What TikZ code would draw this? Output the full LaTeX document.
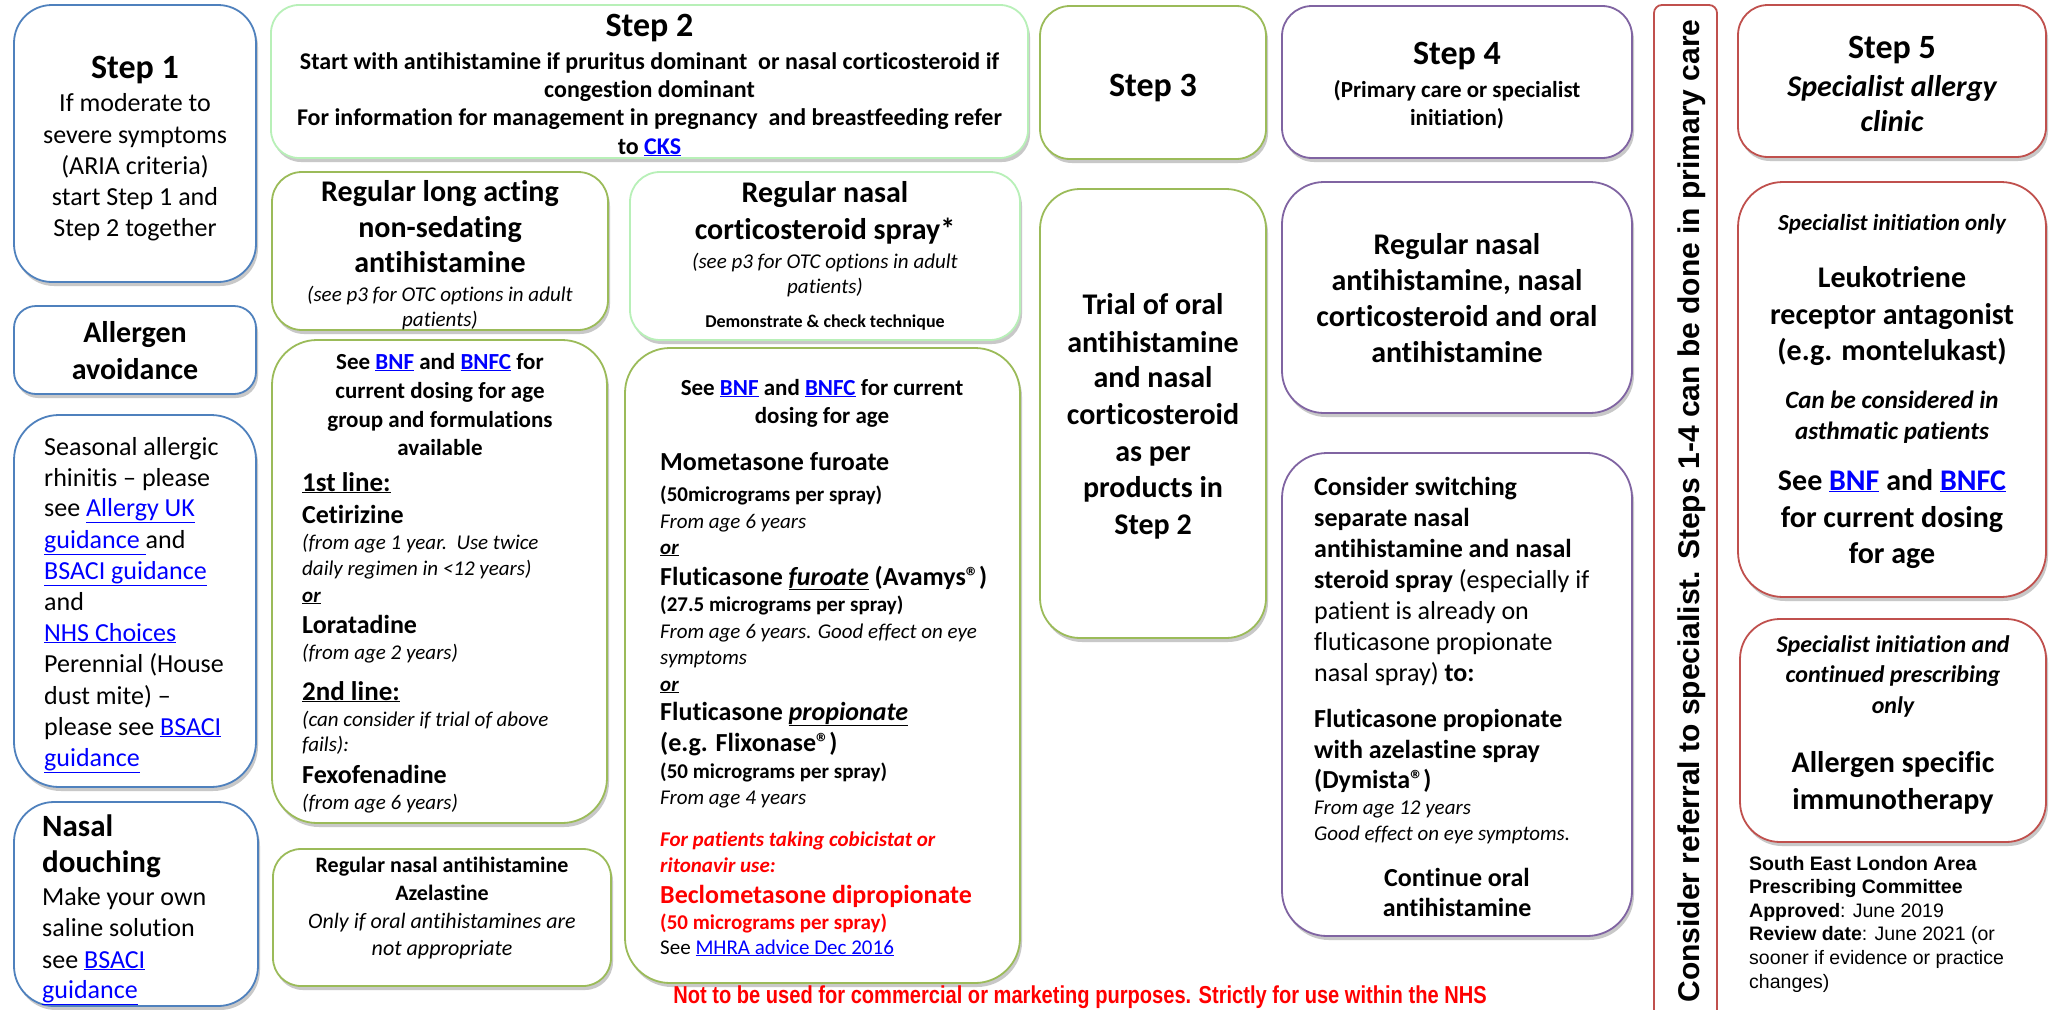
\documentclass[tikz,border=0pt]{standalone}
\usepackage{fontspec}
\setmainfont{Carlito}[Ligatures={TeX,NoCommon}]
\newfontfamily\arialfont{Liberation Sans}
\newfontfamily\arialnarrow[FakeStretch=0.82]{Liberation Sans}
\usetikzlibrary{shadows}
\definecolor{cblue}{HTML}{4F81BD}
\definecolor{cgreen}{HTML}{9BBB59}
\definecolor{clight}{HTML}{B8F0B8}
\definecolor{cpurple}{HTML}{8064A2}
\definecolor{cred}{HTML}{C0504D}
\definecolor{linkblue}{HTML}{0000FF}
\definecolor{txtred}{HTML}{FF0000}
\newcommand\lk[1]{\textcolor{linkblue}{\underline{#1}}}
\newcommand\mkbox[7]{\node[#2,rounded corners=#7pt,minimum width={(#5)-(#3)},minimum height={(#6)-(#4)}] (#1) at ({((#3)+(#5))/2},{((#4)+(#6))/2}) {};}
\tikzset{
  box/.style={draw, line width=1.8pt, fill=white, inner sep=0pt, outer sep=0pt,
    drop shadow={shadow xshift=2pt, shadow yshift=-4pt, opacity=0.3, fill=black!70}},
  bluebox/.style={box, draw=cblue},
  greenbox/.style={box, draw=cgreen},
  lightbox/.style={box, draw=clight},
  purplebox/.style={box, draw=cpurple},
  redbox/.style={box, draw=cred},
  tc/.style={inner sep=0pt, anchor=base},
  tl/.style={inner sep=0pt, anchor=base west},
  fb/.style={font={\fontsize{#1}{#1}\selectfont\bfseries}},
  fr/.style={font={\fontsize{#1}{#1}\selectfont}},
  fi/.style={font={\fontsize{#1}{#1}\selectfont\itshape}},
  fbi/.style={font={\fontsize{#1}{#1}\selectfont\bfseries\itshape}},
  fa/.style={font={\fontsize{#1}{#1}\selectfont\arialfont}},
}
\begin{document}
\begin{tikzpicture}[x=1pt,y=-1pt]
\fill[white] (0,0) rectangle (2049,1009);
\useasboundingbox (0,0) rectangle (2049,1009);

% ---------------- boxes ----------------
\mkbox{s1box}{bluebox}{14}{5}{256}{282}{38}
\mkbox{algbox}{bluebox}{14}{306}{256}{394}{22}
\mkbox{seabox}{bluebox}{14}{415}{256}{787}{45}
\mkbox{douchbox}{bluebox}{14}{802}{258}{1006}{40}

\mkbox{s2box}{lightbox}{271}{5}{1028}{158}{28}
\mkbox{longbox}{greenbox}{272}{172}{608}{330}{30}
\mkbox{corbox}{lightbox}{630}{172}{1020}{340}{30}
\mkbox{bnfl}{greenbox}{272}{340}{607}{823}{45}
\mkbox{azebox}{greenbox}{273}{849}{611}{986}{28}
\mkbox{bnfm}{greenbox}{625}{348}{1020}{983}{45}

\mkbox{s3box}{greenbox}{1040}{6}{1266}{159}{30}
\mkbox{trialbox}{greenbox}{1040}{189}{1266}{638}{40}

\mkbox{s4box}{purplebox}{1282}{6}{1632}{158}{30}
\mkbox{regbox}{purplebox}{1282}{182}{1632}{413}{42}
\mkbox{conbox}{purplebox}{1282}{453}{1632}{936}{45}

\node[draw=cred, line width=1.8pt, rounded corners=8pt, inner sep=0pt,
  minimum width=63pt, minimum height=1017pt] (bar) at (1685.5,513.5) {};

\mkbox{s5box}{redbox}{1738}{5}{2046}{157}{30}
\mkbox{spibox}{redbox}{1738}{182}{2046}{597}{45}
\mkbox{spcbox}{redbox}{1740}{619}{2046}{842}{40}

% ---------------- Step 1 ----------------
\node[tc,fb=34] (s1t) at (135,78) {Step 1};
\node[tc,fr=26] (s1a) at (135,111) {If moderate to};
\node[tc,fr=26] (s1b) at (135,143) {severe symptoms};
\node[tc,fr=26] (s1c) at (135,174) {(ARIA criteria)};
\node[tc,fr=26] (s1d) at (135,205) {start Step 1 and};
\node[tc,fr=26] (s1e) at (135,236) {Step 2 together};

\node[tc,fb=30] (alg1) at (135,342) {Allergen};
\node[tc,fb=30] (alg2) at (135,379) {avoidance};

\node[tl,fr=26] (sea1) at (44,455) {Seasonal allergic};
\node[tl,fr=26] (sea2) at (44,486) {rhinitis – please};
\node[tl,fr=26] (sea3) at (44,516) {see \lk{Allergy UK}};
\node[tl,fr=26] (sea4) at (44,548) {\lk{guidance~}and};
\node[tl,fr=26] (sea5) at (44,579) {\lk{BSACI guidance}};
\node[tl,fr=26] (sea6) at (44,610) {and};
\node[tl,fr=26] (sea7) at (44,641) {\lk{NHS Choices}};
\node[tl,fr=26] (sea8) at (44,672) {Perennial (House};
\node[tl,fr=26] (sea9) at (44,704) {dust mite) –};
\node[tl,fr=26] (sea10) at (44,735) {please see \lk{BSACI}};
\node[tl,fr=26] (sea11) at (44,766) {\lk{guidance}};

\node[tl,fb=31] (nd1) at (42,836) {Nasal};
\node[tl,fb=31] (nd2) at (42,872) {douching};
\node[tl,fr=26] (nd3) at (42,905) {Make your own};
\node[tl,fr=26] (nd4) at (42,936) {saline solution};
\node[tl,fr=26] (nd5) at (42,968) {see \lk{BSACI}};
\node[tl,fr=26] (nd6) at (42,998) {\lk{guidance}};

% ---------------- Step 2 ----------------
\node[tc,fb=34] (s2t) at (649.5,36) {Step 2};
\node[tc,fb=24] (s2a) at (649.5,69) {Start with antihistamine if pruritus dominant\ \ or nasal corticosteroid if};
\node[tc,fb=24] (s2b) at (649.5,97) {congestion dominant};
\node[tc,fb=24] (s2c) at (649.5,125) {For information for management in pregnancy\ \ and breastfeeding refer};
\node[tc,fb=24] (s2d) at (649.5,154) {to \lk{CKS}};

\node[tc,fb=30] (lg1) at (440,201) {Regular long acting};
\node[tc,fb=30] (lg2) at (440,237) {non-sedating};
\node[tc,fb=30] (lg3) at (440,272) {antihistamine};
\node[tc,fi=21] (lg4) at (440,301) {(see p3 for OTC options in adult};
\node[tc,fi=21] (lg5) at (440,326) {patients)};

\node[tc,fb=30] (co1) at (825,202) {Regular nasal};
\node[tc,fb=30] (co2) at (825,239) {corticosteroid spray*};
\node[tc,fi=21] (co3) at (825,268) {(see p3 for OTC options in adult};
\node[tc,fi=21] (co4) at (825,293) {patients)};
\node[tc,fb=18] (co5) at (825,327) {Demonstrate \& check technique};

% left dosing box
\node[tc,fb=23] (bl1) at (440,369) {See \lk{BNF} and \lk{BNFC} for};
\node[tc,fb=23] (bl2) at (440,398) {current dosing for age};
\node[tc,fb=23] (bl3) at (440,427) {group and formulations};
\node[tc,fb=23] (bl4) at (440,455) {available};
\node[tl,fb=27] (bl5) at (302,491) {\underline{1st line:}};
\node[tl,fb=26] (bl6) at (302,523) {Cetirizine};
\node[tl,fi=21] (bl7) at (302,549) {(from age 1 year.\ \ Use twice};
\node[tl,fi=21] (bl8) at (302,575) {daily regimen in <12 years)};
\node[tl,fbi=21] (bl9) at (302,602) {\underline{or}};
\node[tl,fb=26] (bl10) at (302,633) {Loratadine};
\node[tl,fi=21] (bl11) at (302,659) {(from age 2 years)};
\node[tl,fb=27] (bl12) at (302,700) {\underline{2nd line:}};
\node[tl,fi=21] (bl13) at (302,726) {(can consider if trial of above};
\node[tl,fi=21] (bl14) at (302,751) {fails):};
\node[tl,fb=26] (bl15) at (302,783) {Fexofenadine};
\node[tl,fi=21] (bl16) at (302,809) {(from age 6 years)};

\node[tc,fb=22] (az1) at (442,872) {Regular nasal antihistamine};
\node[tc,fb=22] (az2) at (442,900) {Azelastine};
\node[tc,fi=22] (az3) at (442,928) {Only if oral antihistamines are};
\node[tc,fi=22] (az4) at (442,955) {not appropriate};

% middle dosing box
\node[tc,fb=23] (bm1) at (822,395) {See \lk{BNF} and \lk{BNFC} for current};
\node[tc,fb=23] (bm2) at (822,423) {dosing for age};
\node[tl,fb=26] (bm3) at (660,470) {Mometasone furoate};
\node[tl,fb=21] (bm4) at (660,501) {(50micrograms per spray)};
\node[tl,fi=21] (bm5) at (660,528) {From age 6 years};
\node[tl,fbi=21] (bm6) at (660,554) {\underline{or}};
\node[tl,fb=26] (bm7) at (660,585) {Fluticasone \underline{\itshape furoate} (Avamys®)};
\node[tl,fb=21] (bm8) at (660,611) {(27.5 micrograms per spray)};
\node[tl,fi=21] (bm9) at (660,638) {From age 6 years. Good effect on eye};
\node[tl,fi=21] (bm10) at (660,664) {symptoms};
\node[tl,fbi=21] (bm11) at (660,691) {\underline{or}};
\node[tl,fb=26] (bm12) at (660,720) {Fluticasone \underline{\itshape propionate}};
\node[tl,fb=26] (bm13) at (660,751) {(e.g. Flixonase®)};
\node[tl,fb=21] (bm14) at (660,778) {(50 micrograms per spray)};
\node[tl,fi=21] (bm15) at (660,804) {From age 4 years};
\node[tl,fbi=21,text=txtred] (bm16) at (660,846) {For patients taking cobicistat or};
\node[tl,fbi=21,text=txtred] (bm17) at (660,872) {ritonavir use:};
\node[tl,fb=26,text=txtred] (bm18) at (660,903) {Beclometasone dipropionate};
\node[tl,fb=21,text=txtred] (bm19) at (660,929) {(50 micrograms per spray)};
\node[tl,fr=21] (bm20) at (660,954) {See \lk{MHRA advice Dec 2016}};

% ---------------- Step 3 ----------------
\node[tc,fb=34] (s3t) at (1153,96) {Step 3};
\node[tc,fb=30] (tr1) at (1153,314) {Trial of oral};
\node[tc,fb=30] (tr2) at (1153,352) {antihistamine};
\node[tc,fb=30] (tr3) at (1153,387) {and nasal};
\node[tc,fb=30] (tr4) at (1153,424) {corticosteroid};
\node[tc,fb=30] (tr5) at (1153,461) {as per};
\node[tc,fb=30] (tr6) at (1153,497) {products in};
\node[tc,fb=30] (tr7) at (1153,534) {Step 2};

% ---------------- Step 4 ----------------
\node[tc,fb=34] (s4t) at (1457,64) {Step 4};
\node[tc,fb=23] (s4a) at (1457,97) {(Primary care or specialist};
\node[tc,fb=23] (s4b) at (1457,125) {initiation)};
\node[tc,fb=30] (rg1) at (1457,254) {Regular nasal};
\node[tc,fb=30] (rg2) at (1457,290) {antihistamine, nasal};
\node[tc,fb=30] (rg3) at (1457,326) {corticosteroid and oral};
\node[tc,fb=30] (rg4) at (1457,362) {antihistamine};

\node[tl,fb=26] (cs1) at (1314,495) {Consider switching};
\node[tl,fb=26] (cs2) at (1314,526) {separate nasal};
\node[tl,fb=26] (cs3) at (1314,557) {antihistamine and nasal};
\node[tl,fr=26] (cs4) at (1314,588) {\textbf{steroid spray} (especially if};
\node[tl,fr=26] (cs5) at (1314,619) {patient is already on};
\node[tl,fr=26] (cs6) at (1314,650) {fluticasone propionate};
\node[tl,fr=26] (cs7) at (1314,681) {nasal spray) \textbf{to:}};
\node[tl,fb=26] (cs8) at (1314,727) {Fluticasone propionate};
\node[tl,fb=26] (cs9) at (1314,758) {with azelastine spray};
\node[tl,fb=26] (cs10) at (1314,788) {(Dymista®)};
\node[tl,fi=21] (cs11) at (1314,814) {From age 12 years};
\node[tl,fi=21] (cs12) at (1314,840) {Good effect on eye symptoms.};
\node[tc,fb=26] (cs13) at (1457,886) {Continue oral};
\node[tc,fb=26] (cs14) at (1457,916) {antihistamine};

% ---------------- vertical bar ----------------
\node[inner sep=0pt, anchor=base, rotate=90, font={\fontsize{30}{36}\selectfont\arialfont\bfseries}] (vt) at (1699,511) {Consider referral to specialist. Steps 1-4 can be done in primary care};

% ---------------- Step 5 ----------------
\node[tc,fb=34] (s5t) at (1892,58) {Step 5};
\node[tc,fbi=30] (s5a) at (1892,96) {Specialist allergy};
\node[tc,fbi=30] (s5b) at (1892,131) {clinic};

\node[tc,fbi=23] (sp1) at (1892,230) {Specialist initiation only};
\node[tc,fb=30] (sp2) at (1892,287) {Leukotriene};
\node[tc,fb=30] (sp3) at (1892,324) {receptor antagonist};
\node[tc,fb=30] (sp4) at (1892,360) {(e.g. montelukast)};
\node[tc,fbi=25] (sp5) at (1892,408) {Can be considered in};
\node[tc,fbi=25] (sp6) at (1892,439) {asthmatic patients};
\node[tc,fb=30] (sp7) at (1892,490) {See \lk{BNF} and \lk{BNFC}};
\node[tc,fb=30] (sp8) at (1892,527) {for current dosing};
\node[tc,fb=30] (sp9) at (1892,563) {for age};

\node[tc,fbi=24] (sc1) at (1893,652) {Specialist initiation and};
\node[tc,fbi=24] (sc2) at (1893,682) {continued prescribing};
\node[tc,fbi=24] (sc3) at (1893,713) {only};
\node[tc,fb=30] (sc4) at (1893,772) {Allergen specific};
\node[tc,fb=30] (sc5) at (1893,809) {immunotherapy};

% footer
\node[tl,fa=19.5] (ft1) at (1749,870) {\textbf{South East London Area}};
\node[tl,fa=19.5] (ft2) at (1749,893) {\textbf{Prescribing Committee}};
\node[tl,fa=19.5] (ft3) at (1749,917) {\textbf{Approved}: June 2019};
\node[tl,fa=19.5] (ft4) at (1749,940) {\textbf{Review date}: June 2021 (or};
\node[tl,fa=19.5] (ft5) at (1749,964) {sooner if evidence or practice};
\node[tl,fa=19.5] (ft6) at (1749,988) {changes)};

% disclaimer
\node[tc, text=txtred, font={\fontsize{24.5}{29}\selectfont\arialnarrow\bfseries}] (disc) at (1080,1003) {Not to be used for commercial or marketing purposes. Strictly for use within the NHS};
\end{tikzpicture}
\end{document}
